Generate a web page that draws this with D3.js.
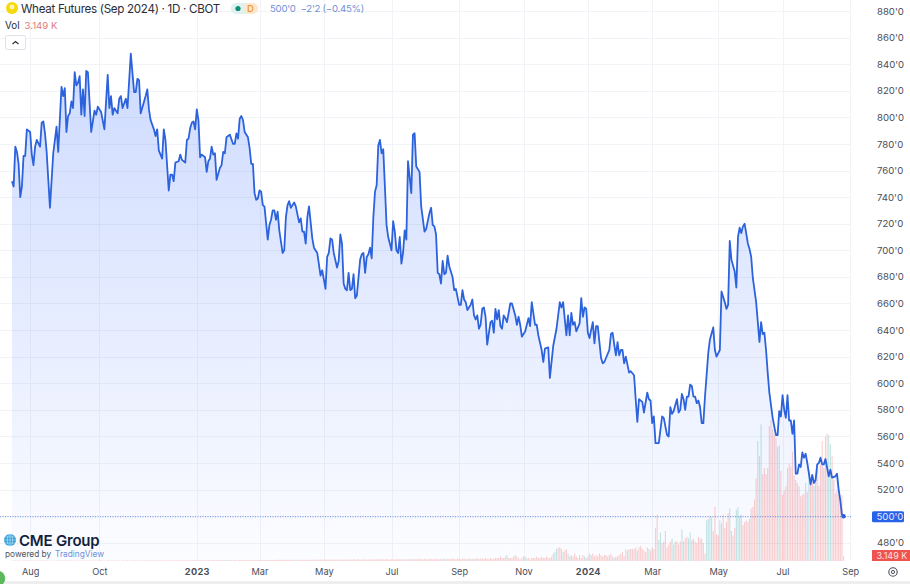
<!DOCTYPE html>
<html><head><meta charset="utf-8">
<script src="https://cdn.jsdelivr.net/npm/d3@7/dist/d3.min.js"></script>
<style>
html,body{margin:0;padding:0;background:#fff;overflow:hidden}
svg{display:block;font-family:Inter,Roboto,sans-serif}
</style></head><body><svg id="c" width="910" height="584"></svg>
<script>
const sessions=[
0,1,2,3,4,5,6,7,8,9,
11,12,13,14,15,17,18,19,20,21,
23,25,27,28,30,31,32,33,34,35,
36,37,38,39,40,41,42,43,44,45,
46,48,49,50,51,52,54,56,58,59,
60,61,62,64,65,66,67,69,70,72,
74,75,76,77,78,81,82,83,84,86,
87,88,89,90,91,92,93,95,96,97,
98,99,101,102,103,105,106,107,108,109,
110,111,112,113,114,115,117,118,119,120,
121,122,123,124,126,127,128,129,130,132,
134,135,136,137,138,139,140,141,143,144,
145,146,147,148,149,150,151,152,153,155,
156,157,158,159,160,161,162,164,165,166,
167,168,169,171,172,174,175,176,177,178,
179,180,182,183,185,187,188,190,191,192,
193,194,195,197,198,199,200,201,202,203,
204,205,206,207,208,209,211,212,213,214,
215,216,217,218,219,220,221,222,223,224,
225,226,227,228,230,231,232,233,234,235,
236,237,238,239,240,242,243,244,245,247,
248,250,251,253,254,255,256,257,258,259,
260,261,262,263,264,265,267,268,269,271,
272,273,274,275,276,278,279,280,281,282,
283,284,285,286,287,288,290,291,292,293,
294,295,296,297,298,299,300,302,303,305,
306,307,308,309,310,311,313,314,315,317,
318,319,321,322,323,325,326,328,330,332,
333,334,336,337,338,339,340,341,342,344,
345,346,347,348,349,350,352,353,354,355,
356,357,358,359,361,362,363,364,365,366,
367,368,369,370,371,372,374,375,377,378,
379,380,382,383,385,386,387,388,389,390,
392,394,395,397,398,399,400,401,403,404,
405,406,407,408,409,410,411,412,413,414,
415,416,417,418,419,420,422,423,425,426,
427,429,430,432,433,434,435,436,438,439,
440,441,442,443,444,446,447,448,449,451,
453,454,455,456,457,458,459,461,463,464,
465,466,467,468,469,470,471,472,473,474,
475,476,477,478,479,480,481,482,484,485,
486,487,488,489,490,491,492,493,495,496,
497,499,500,501,502,503,504];
const closes=[
752,748,778,774,765,740,748,771,771,791,
789,772,764,778,783,778,796,797,788,774,
732,773,793,774,823,816,822,789,801,803,
812,807,834,824,826,831,802,821,801,835,
834,789,797,805,802,808,804,791,832,807,
816,802,807,803,814,816,807,814,807,848,
819,819,829,828,803,816,821,806,798,791,
786,791,775,772,769,791,783,745,757,757,
752,766,767,772,768,766,783,784,792,796,
797,791,806,798,770,772,770,759,767,769,
778,772,773,753,762,764,774,773,785,787,
780,780,788,784,799,801,798,789,785,777,
765,765,743,738,739,745,744,734,733,708,
719,723,730,730,723,729,715,698,700,725,
734,737,732,736,733,721,724,714,714,705,
725,733,709,702,698,681,685,671,695,698,
709,708,698,687,692,712,705,675,671,670,
683,670,671,682,664,666,693,697,698,683,
695,697,702,694,725,744,749,779,783,773,
776,748,719,710,700,722,714,700,698,710,
690,698,715,708,767,743,787,788,763,759,
733,714,716,728,732,719,718,712,683,682,
675,692,682,683,696,688,680,670,671,659,
659,670,663,661,655,659,663,651,648,651,
641,644,656,657,650,629,646,647,638,656,
648,655,643,641,651,649,646,660,660,651,
644,650,644,635,637,639,649,643,661,644,
644,636,625,616,626,627,604,628,641,661,
657,661,636,651,636,653,644,646,639,645,
664,650,657,656,638,634,646,630,643,643,
631,619,615,616,622,625,637,638,629,621,
631,621,625,625,615,620,608,609,606,588,
571,588,586,578,593,588,587,570,575,555,
555,575,574,561,560,582,577,579,588,578,
580,592,588,580,590,590,599,598,590,590,
585,587,582,570,570,590,623,633,642,625,
620,625,669,661,656,659,707,693,684,672,
710,717,713,718,720,705,701,695,679,661,
631,646,637,638,625,608,593,574,561,561,
579,575,591,580,574,591,572,572,562,572,
532,532,539,537,548,544,547,540,524,531,
525,527,539,540,544,539,539,543,530,535,
529,530,532,520,512,501,500];
// Daily volume in thousands, one entry per session
const volumes=[
.3,.2,.3,.2,.3,.3,.2,.4,.3,.2,.3,.2,.3,.4,.2,.3,.3,.2,.3,.2,
.3,.4,.3,.2,.3,.3,.2,.3,.4,.3,.2,.3,.3,.2,.3,.4,.3,.2,.3,.3,
.3,.2,.4,.3,.3,.2,.3,.3,.4,.2,.3,.3,.2,.4,.3,.3,.2,.3,.4,.3,
.4,.3,.3,.4,.3,.5,.3,.4,.3,.4,.5,.3,.4,.3,.4,.4,.3,.5,.4,.3,
.4,.5,.4,.3,.4,.5,.4,.4,.3,.5,.4,.5,.4,.3,.5,.4,.5,.4,.4,.5,
.5,.4,.6,.5,.4,.5,.6,.5,.4,.5,.6,.5,.5,.4,.6,.5,.5,.6,.4,.5,
.6,.5,.7,.5,.6,.5,.7,.6,.5,.6,.7,.5,.6,.6,.5,.7,.6,.5,.7,.6,
.7,.6,.8,.6,.7,.7,.6,.8,.7,.6,.8,.7,.6,.7,.8,.6,.7,.8,.7,.6,
.8,.7,.9,.7,.8,.8,.7,.9,.8,.7,.9,.8,.7,.8,.9,.7,.8,.9,.8,.7,
.9,.8,1,.8,.9,.9,.8,1,.9,.8,1,.9,.8,.9,1,.8,.9,1,.9,.8,
1,.9,1.1,.9,1,1,.9,1.2,1,.9,1.1,1,.9,1,1.2,.9,1,1.1,1,.9,
1.1,1,1.3,1,1.1,1.2,1,1.3,1.1,1,1.2,1.1,1,1.2,1.3,1,1.1,1.2,1.1,1,
1.3,1.1,1.4,1.1,1.2,1.3,1.1,1.5,1.2,1.1,1.4,1.2,1.1,1.3,1.5,1.1,1.2,1.4,1.2,1.1,
1.4,1.2,1.6,1.2,1.4,1.5,1.2,1.7,1.3,1.2,1.6,1.4,1.2,1.5,1.8,1.3,1.4,1.6,1.4,1.3,
1.7,1.4,1.9,1.4,1.6,1.8,1.4,2,1.5,1.4,1.9,1.6,1.5,2,2,
2,3,2,2,3,4,2,2,2,3,4,3,2,1,2,3,3,2,2,1,2,2,2,3,2,2,3,2,2,3,2,2,3,
5,6,8,9,9,8,6,7,8,
5,3,4,3,5,3,2,4,2,4,3,2,3,5,4,5,3,4,3,5,4,3,4,4,3,4,5,3,2,3,3,4,5,6,3,
8,7,8,8,8,8,9,7,9,10,8,7,6,9,8,7,9,8,
22,31,14,19,12,13,20,9,11,13,15,11,13,13,11,13,21,13,15,16,15,19,14,15,13,12,16,
15,15,12,5,27,28,30,29,20,36,18,17,27,25,31,22,26,32,35,20,17,22,34,36,
30,31,24,26,27,26,28,35,36,41,55,80,70,91,58,62,58,62,90,94,
88,84,82,76,77,60,44,47,50,62,65,63,73,57,54,52,50,43,44,45,
52,46,60,55,53,50,55,62,50,64,80,62,83,85,84,78,70,54,45,47,
44,42,44,3.149];
const upVolumeSessions=[22,47,88,130,171,203,240,262,279,300,312,329,330,334,337,338,347,351,362,365,374,379,386,392,393,400,402,406,410,411,421,422,423,424,429,430,435,439,440,441,442,452,454,464,465,481,483,486,495,496];
const priceTicks=[480,500,520,540,560,580,600,620,640,660,680,700,720,740,760,780,800,820,840,860,880];
const timeTickSessions=[11,53,112,150,189,230,271,310,349,388,428,467,508];
const timeTickLabels=["Aug","Oct","2023","Mar","May","Jul","Sep","Nov","2024","Mar","May","Jul","Sep"];
const boldTimeLabels=["2023","2024"];
const lastPrice=500;

const svg=d3.select("#c");
const x=d3.scaleLinear().domain([0,504]).range([12,843.6]);
const y=d3.scaleLinear().domain([480,880]).range([542.8,11]);
const yVol=d3.scaleLinear().domain([0,100]).range([561,411]);
const series=d3.zip(sessions,closes);
const baseY=561;

const defs=svg.append("defs");
const g=defs.append("linearGradient").attr("id","fill").attr("gradientUnits","userSpaceOnUse")
 .attr("x1",0).attr("x2",0).attr("y1",y(848)).attr("y2",baseY);
g.append("stop").attr("offset",0).attr("stop-color","#2962ff").attr("stop-opacity",.23);
g.append("stop").attr("offset",1).attr("stop-color","#2962ff").attr("stop-opacity",.015);

// grid
const grid=svg.append("g").attr("stroke","#f2f3f6").attr("stroke-width",1);
grid.selectAll("line.h").data(priceTicks).join("line").attr("x1",0).attr("x2",851)
 .attr("y1",d=>Math.round(y(d))+.5).attr("y2",d=>Math.round(y(d))+.5);
grid.selectAll("line.v").data(timeTickSessions).join("line")
 .attr("x1",d=>Math.round(x(d))+.5).attr("x2",d=>Math.round(x(d))+.5).attr("y1",0).attr("y2",baseY);

// area + volume + line
svg.append("path").datum(series).attr("fill","url(#fill)")
 .attr("d",d3.area().x(d=>x(d[0])).y0(baseY).y1(d=>y(d[1])));
const upSet=new Set(upVolumeSessions);
svg.append("g").selectAll("rect").data(volumes).join("rect")
 .attr("x",(d,i)=>x(i)-.55).attr("width",1.1)
 .attr("y",d=>yVol(d)).attr("height",d=>yVol(0)-yVol(d))
 .attr("fill",(d,i)=>upSet.has(i)?"#26a69a":"#ef5350").attr("opacity",.28);
svg.append("line").attr("x1",0).attr("x2",851).attr("y1",y(lastPrice)+.5).attr("y2",y(lastPrice)+.5)
 .attr("stroke","#3a6fe0").attr("stroke-opacity",.75).attr("stroke-dasharray","1 1.5");
svg.append("path").datum(series).attr("fill","none").attr("stroke","#2c62dc").attr("stroke-width",1.8)
 .attr("stroke-linejoin","round").attr("d",d3.line().x(d=>x(d[0])).y(d=>y(d[1])));
svg.append("circle").attr("cx",x(504)).attr("cy",y(lastPrice)).attr("r",2.2).attr("fill","#2c62dc");

// axes
const ay=svg.append("g").attr("transform","translate(873,0)")
 .call(d3.axisRight(y).tickValues(priceTicks).tickSize(0).tickPadding(4).tickFormat(d=>d+"'0"));
ay.select(".domain").remove();
ay.selectAll("text").attr("font-family","Inter,Roboto,sans-serif").attr("font-size",9.6).attr("fill","#4a4e59");
ay.selectAll(".tick").filter(d=>d===500).select("text").attr("opacity",0);
const ax=svg.append("g").attr("transform","translate(0,568)")
 .call(d3.axisBottom(x).tickValues(timeTickSessions).tickSize(0).tickPadding(0).tickFormat((d,i)=>timeTickLabels[i]));
ax.select(".domain").remove();
ax.selectAll("text").attr("font-family","Inter,Roboto,sans-serif").attr("font-size",9.2).attr("fill","#4a4e59")
 .attr("font-weight",(d,i)=>boldTimeLabels.includes(timeTickLabels[i])?700:400)
 .attr("letter-spacing",(d,i)=>boldTimeLabels.includes(timeTickLabels[i])?.3:0);

// price tags
svg.append("rect").attr("x",872).attr("y",y(lastPrice)-5).attr("width",32).attr("height",11).attr("rx",1.5).attr("fill","#2962ea");
svg.append("text").attr("x",876.5).attr("y",y(lastPrice)+4).attr("font-size",9.6).attr("fill","#e6ecff").text(lastPrice+"'0");
svg.append("rect").attr("x",872).attr("y",550).attr("width",38).attr("height",11).attr("fill","#ef5350");
svg.append("text").attr("x",876.5).attr("y",559).attr("font-size",9).attr("fill","#fde4e3").text("3.149 K");

// gear
const gear=svg.append("g").attr("transform","translate(893,572)").attr("fill","none").attr("stroke","#4a4e59");
gear.append("circle").attr("r",4.2).attr("stroke-width",1.1);
gear.append("circle").attr("r",1.6).attr("stroke-width",1);

// legend
svg.append("circle").attr("cx",12).attr("cy",8).attr("r",6).attr("fill","#f5d90a");
svg.append("circle").attr("cx",12).attr("cy",7).attr("r",2.4).attr("fill","#fff7b0");
svg.append("text").attr("x",21).attr("y",12.5).attr("font-size",11.6).attr("letter-spacing",-.3).attr("fill","#2a2e39").text("Wheat Futures (Sep 2024) · 1D · CBOT");
svg.append("rect").attr("x",235).attr("y",3).attr("width",14).attr("height",11).attr("fill","#e0f2ef");
svg.append("rect").attr("x",244).attr("y",3).attr("width",14).attr("height",11).attr("rx",5).attr("fill","#fde7cd");
svg.append("rect").attr("x",231).attr("y",3).attr("width",10).attr("height",11).attr("rx",5).attr("fill","#e0f2ef");
svg.append("circle").attr("cx",238).attr("cy",8.5).attr("r",2.6).attr("fill","#0f8f7b");
svg.append("text").attr("x",250.5).attr("y",12).attr("font-size",9.5).attr("text-anchor","middle").attr("fill","#e8962c").attr("font-weight",500).text("D");
svg.append("text").attr("x",270).attr("y",12).attr("font-size",9.6).attr("letter-spacing",-.25).attr("fill","#6f90d8").attr("xml:space","preserve").text("500'0  −2'2 (−0.45%)");
svg.append("text").attr("x",5).attr("y",29).attr("font-size",9.8).attr("fill","#2a2e39").text("Vol");
svg.append("text").attr("x",24.5).attr("y",29).attr("font-size",9.6).attr("fill","#e07a78").text("3.149 K");
svg.append("rect").attr("x",5.5).attr("y",35.5).attr("width",20).attr("height",14).attr("rx",2).attr("fill","#fff").attr("stroke","#dfe1e6");
svg.append("path").attr("d","M12.5 44 L15.5 41.5 L18.5 44").attr("fill","none").attr("stroke","#2a2e39").attr("stroke-width",1.1);

// logo
const globe=svg.append("g").attr("transform","translate(10,540)");
globe.append("circle").attr("r",6).attr("fill","#2c9bd6");
globe.append("ellipse").attr("rx",2.7).attr("ry",6).attr("fill","none").attr("stroke","#cfeaf8").attr("stroke-width",.6);
globe.append("path").attr("d","M-6 0H6M-5.2 -3H5.2M-5.2 3H5.2M0 -6V6").attr("stroke","#cfeaf8").attr("stroke-width",.6);
svg.append("text").attr("x",19).attr("y",545.5).attr("font-size",15).attr("font-weight",600).attr("fill","#131f3c").attr("letter-spacing",-.2).text("CME Group");
svg.append("text").attr("x",5).attr("y",557).attr("font-size",8.3).attr("fill","#50535e").text("powered by");
svg.append("text").attr("x",55).attr("y",557).attr("font-size",8.3).attr("fill","#6f90d8").text("TradingView");

// bottom edge
svg.append("rect").attr("x",0).attr("y",581).attr("width",910).attr("height",3).attr("fill","#eeeeef");
svg.append("path").attr("d","M0 571 A8 8 0 0 1 3 584 L0 584 Z").attr("fill","#5cb85c");
</script></body></html>
